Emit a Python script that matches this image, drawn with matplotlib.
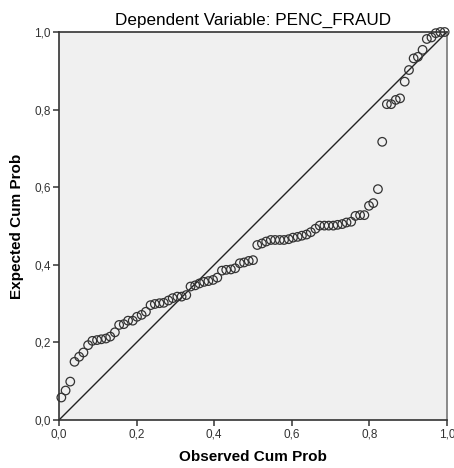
import matplotlib
matplotlib.use("Agg")
import matplotlib.pyplot as plt

observed = [0.006, 0.017, 0.029, 0.040, 0.052, 0.063, 0.075, 0.086, 0.098, 0.109,
            0.121, 0.132, 0.144, 0.155, 0.167, 0.178, 0.190, 0.201, 0.213, 0.224,
            0.236, 0.247, 0.259, 0.270, 0.282, 0.293, 0.305, 0.316, 0.328, 0.339,
            0.351, 0.362, 0.374, 0.385, 0.397, 0.408, 0.420, 0.431, 0.443, 0.454,
            0.466, 0.477, 0.489, 0.500, 0.511, 0.523, 0.534, 0.546, 0.557, 0.569,
            0.580, 0.592, 0.603, 0.615, 0.626, 0.638, 0.649, 0.661, 0.672, 0.684,
            0.695, 0.707, 0.718, 0.730, 0.741, 0.753, 0.764, 0.776, 0.787, 0.799,
            0.810, 0.822, 0.833, 0.845, 0.856, 0.868, 0.879, 0.891, 0.902, 0.914,
            0.925, 0.937, 0.948, 0.960, 0.971, 0.983, 0.994]
expected = [0.058, 0.076, 0.099, 0.150, 0.163, 0.174, 0.193, 0.204, 0.206, 0.208,
            0.210, 0.215, 0.226, 0.245, 0.247, 0.256, 0.256, 0.266, 0.271, 0.279,
            0.296, 0.299, 0.301, 0.302, 0.308, 0.314, 0.318, 0.318, 0.322, 0.344,
            0.347, 0.352, 0.356, 0.358, 0.361, 0.367, 0.385, 0.387, 0.388, 0.391,
            0.404, 0.406, 0.410, 0.412, 0.451, 0.455, 0.460, 0.464, 0.464, 0.464,
            0.464, 0.466, 0.470, 0.472, 0.475, 0.478, 0.484, 0.493, 0.501, 0.501,
            0.501, 0.501, 0.503, 0.505, 0.509, 0.511, 0.526, 0.528, 0.528, 0.552,
            0.559, 0.595, 0.717, 0.814, 0.814, 0.825, 0.829, 0.872, 0.902, 0.932,
            0.936, 0.954, 0.982, 0.986, 0.997, 1.000, 1.000]
ticks = [0.0, 0.2, 0.4, 0.6, 0.8, 1.0]
tick_labels = ["0,0", "0,2", "0,4", "0,6", "0,8", "1,0"]

plt.rcParams['font.family'] = ['Liberation Sans', 'DejaVu Sans']

fig = plt.figure(figsize=(4.54, 4.68), dpi=100)
ax = fig.add_axes([59/454, 48/468, 388/454, 388/468])
ax.set_facecolor('#F0F0F0')

ax.plot([0, 1], [0, 1], color='#222222', lw=1.0, zorder=2)
ax.scatter(observed, expected, s=38, facecolors='none', edgecolors='#333333',
           linewidths=0.9, zorder=3, clip_on=False)

ax.set_xlim(0, 1)
ax.set_ylim(0, 1)
ax.set_xticks(ticks)
ax.set_yticks(ticks)
ax.set_xticklabels(tick_labels)
ax.set_yticklabels(tick_labels)
ax.tick_params(direction='out', length=4, width=1.2, color='#444444',
               labelsize=8.5, labelcolor='#333333', pad=2)

for side in ['left', 'bottom', 'top']:
    ax.spines[side].set_color('#333333')
    ax.spines[side].set_linewidth(1.2)
ax.spines['right'].set_color('#777777')
ax.spines['right'].set_linewidth(1.2)

ax.set_xlabel('Observed Cum Prob', fontsize=11, fontweight='bold', labelpad=7)
ax.set_ylabel('Expected Cum Prob', fontsize=11, fontweight='bold', labelpad=7)
ax.set_title('Dependent Variable: PENC_FRAUD', fontsize=12.3, pad=5)

fig.savefig('out.png', dpi=100)
